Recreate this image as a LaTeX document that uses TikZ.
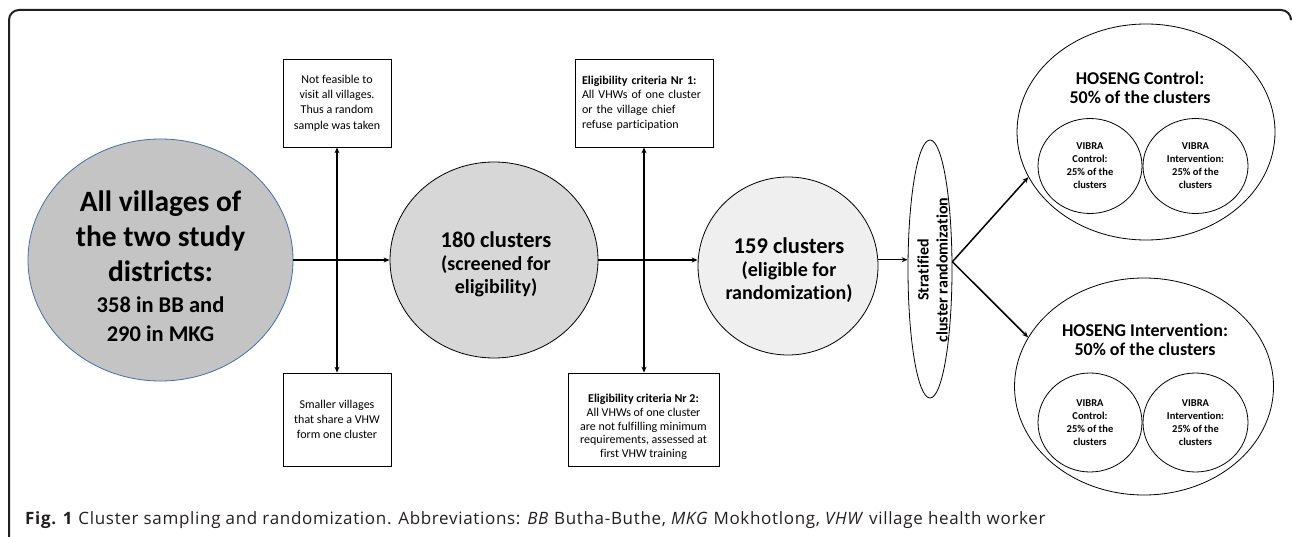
\documentclass[tikz,border=0pt]{standalone}
\usepackage{fontspec}
\setmainfont{Carlito}[Ligatures=NoCommon]
\newfontfamily\capfont{Open Sans}[LetterSpace=4]
\usetikzlibrary{shapes.geometric,arrows.meta}
\definecolor{frameC}{HTML}{231F20}
\definecolor{c1fill}{HTML}{C4C4C4}
\definecolor{c1line}{HTML}{4A6CA8}
\definecolor{c2fill}{HTML}{D7D7D7}
\definecolor{c3fill}{HTML}{EFEFEF}
\begin{document}
\begin{tikzpicture}[x=1pt,y=-1pt,
  arr/.style={line width=1.5pt,-{Stealth[length=6pt,width=5pt]}},
  darr/.style={line width=1.5pt,{Stealth[length=6pt,width=5pt]}-{Stealth[length=6pt,width=5pt]}},
  box/.style={draw,line width=0.8pt,inner sep=0pt,align=center,font=\fontsize{12}{15.3}\selectfont},
  oval/.style={ellipse,draw,line width=0.8pt,inner sep=0pt},
  bigtxt/.style={align=center,inner sep=0pt,font=\bfseries\fontsize{22.5}{23}\selectfont},
  vibra/.style={oval,align=center,font=\bfseries\fontsize{10.5}{13}\selectfont},
  hosen/.style={align=center,inner sep=0pt,font=\bfseries\fontsize{18}{18.5}\selectfont}]
\useasboundingbox (0,0) rectangle (1292,537);
% frame
\draw[frameC,line width=2pt,rounded corners=10pt] (9,545) -- (9,10) -- (1291,10) -- (1291,18);

% circles
\node[oval,draw=c1line,fill=c1fill,minimum width=265,minimum height=242] (c1) at (160.5,260) {};
\node[align=center,inner sep=0pt,font=\bfseries\fontsize{29.5}{35}\selectfont] (c1t) at (160.5,266)
  {All villages of\\the two study\\districts:\\[-4pt]{\fontsize{22.5}{27}\selectfont 358 in BB and}\\[-6pt]{\fontsize{22.5}{27}\selectfont 290 in MKG}};

\node[oval,fill=c2fill,minimum width=208,minimum height=196] (c2) at (494,260) {};
\node[bigtxt] (c2t) at (496,264) {180 clusters\\{\fontsize{20}{23}\selectfont (screened for}\\{\fontsize{20}{23}\selectfont eligibility)}};

\node[oval,fill=c3fill,minimum width=180,minimum height=178] (c3) at (788,266) {};
\node[bigtxt] (c3t) at (789,270) {159 clusters\\{\fontsize{20}{23}\selectfont (eligible for}\\{\fontsize{20}{23}\selectfont randomization)}};

% boxes
\node[box,minimum width=108,minimum height=88] (b1) at (337,103)
  {Not feasible to\\visit all villages.\\Thus a random\\sample was taken};
\node[box,minimum width=108,minimum height=93] (b2) at (337,419.5)
  {Smaller villages\\that share a VHW\\form one cluster};
\node[box,minimum width=138,minimum height=88,align=left,text width=124,inner xsep=7pt,font=\fontsize{12}{14.7}\selectfont] (b3) at (644,103)
  {\textbf{Eligibility criteria Nr 1:}\\All VHWs of one cluster\\or the village chief\\refuse participation};
\node[draw,line width=0.8pt,minimum width=151,minimum height=93,inner sep=0pt] (b4) at (643.5,419.5) {};
\node[align=center,inner sep=0pt,font=\fontsize{12}{13.8}\selectfont] (b4t) at (643.5,427)
  {\textbf{Eligibility criteria Nr 2:}\\All VHWs of one cluster\\are not fulfilling minimum\\requirements, assessed at\\first VHW training};

% stratified randomization
\node[oval,minimum width=44,minimum height=258] (st) at (930,269) {};
\node[rotate=90,align=center,inner sep=0pt,font=\bfseries\fontsize{16}{19}\selectfont] (stt) at (932.5,270)
  {Stratified\\cluster randomization};

% HOSENG ellipses
\node[oval,minimum width=258,minimum height=216] (hc) at (1146,132) {};
\node[hosen] (hct) at (1140,88) {HOSENG Control:\\50\% of the clusters};
\node[vibra,minimum width=104,minimum height=95] (vc1) at (1090,166) {VIBRA\\Control:\\25\% of the\\clusters};
\node[vibra,minimum width=105,minimum height=95] (vi1) at (1195.5,166) {VIBRA\\Intervention:\\25\% of the\\clusters};

\node[oval,minimum width=259,minimum height=217] (hi) at (1144,386.5) {};
\node[hosen] (hit) at (1145,340) {HOSENG Intervention:\\50\% of the clusters};
\node[vibra,minimum width=104,minimum height=99] (vc2) at (1090,422.5) {VIBRA\\Control:\\25\% of the\\clusters};
\node[vibra,minimum width=105,minimum height=99] (vi2) at (1195.5,422.5) {VIBRA\\Intervention:\\25\% of the\\clusters};

% connectors
\draw[arr] (c1.east) -- (c2.west);
\draw[darr] (b1.south) -- (b2.north);
\draw[arr] (c2.east) -- (c2.east -| c3.west);
\draw[darr] (b3.south) -- (b3.south |- b4.north);
\draw[arr] (c3.4) -- (c3.4 -| st.west);
\draw[arr] (st.18) -- (hc.201);
\draw[arr] (st.18) -- (hi.157);

% caption
\node[anchor=west,inner sep=0pt,font=\capfont\fontsize{17}{19}\selectfont,text=frameC] (cap) at (25,520)
  {\textbf{Fig. 1} Cluster sampling and randomization. Abbreviations: \textit{BB} Butha-Buthe, \textit{MKG} Mokhotlong, \textit{VHW} village health worker};
\end{tikzpicture}
\end{document}
